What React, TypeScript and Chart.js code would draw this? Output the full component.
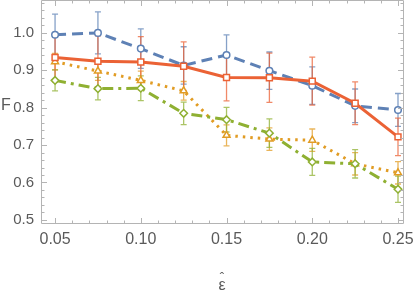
import React, { useEffect, useRef } from "react";
import { Chart, registerables } from "chart.js";

Chart.register(...registerables);

const xValues = [0.05, 0.075, 0.1, 0.125, 0.15, 0.175, 0.2, 0.225, 0.25];
const xTickValues = [0.05, 0.1, 0.15, 0.2, 0.25];
const xTickLabels = ["0.05", "0.10", "0.15", "0.20", "0.25"];
const yTickValues = [0.5, 0.6, 0.7, 0.8, 0.9, 1.0];
const yTickLabels = ["0.5", "0.6", "0.7", "0.8", "0.9", "1.0"];

const blueVals = [0.995, 1.0, 0.958, 0.913, 0.941, 0.899, 0.859, 0.805, 0.794];
const blueErr = [0.055, 0.056, 0.053, 0.05, 0.054, 0.05, 0.05, 0.045, 0.044];
const redVals = [0.934, 0.924, 0.922, 0.911, 0.881, 0.88, 0.871, 0.812, 0.722];
const redErr = [0.065, 0.068, 0.068, 0.065, 0.063, 0.066, 0.064, 0.057, 0.05];
const orangeVals = [0.923, 0.898, 0.873, 0.845, 0.726, 0.716, 0.713, 0.65, 0.626];
const orangeErr = [0.022, 0.025, 0.025, 0.025, 0.028, 0.03, 0.03, 0.03, 0.03];
const greenVals = [0.873, 0.851, 0.852, 0.785, 0.768, 0.732, 0.655, 0.65, 0.582];
const greenErr = [0.028, 0.03, 0.033, 0.03, 0.033, 0.038, 0.036, 0.038, 0.035];

const BLUE = "#5E81B5";
const RED = "#EB6235";
const ORANGE = "#E19C24";
const GREEN = "#8FB032";
const AXIS = "#b4b4b4";
const TEXT = "#5a5a5a";
const FONT = "'Liberation Sans', Arial, sans-serif";

function hexA(hex: string, a: number) {
  const n = parseInt(hex.slice(1), 16);
  return `rgba(${(n >> 16) & 255},${(n >> 8) & 255},${n & 255},${a})`;
}

const errorBarPlugin = {
  id: "errorBars",
  beforeDatasetsDraw(chart: any) {
    const ctx = chart.ctx;
    const xs = chart.scales.x;
    const ys = chart.scales.y;
    ctx.save();
    const order = [0, 1, 2, 3];
    order.forEach((di) => {
      const ds = chart.data.datasets[di];
      const errs: number[] = ds.errors;
      ctx.strokeStyle = hexA(ds.borderColor, 0.75);
      ctx.lineWidth = 1.3;
      ds.data.forEach((p: any, i: number) => {
        const px = xs.getPixelForValue(p.x);
        const top = ys.getPixelForValue(p.y + errs[i]);
        const bot = ys.getPixelForValue(p.y - errs[i]);
        ctx.beginPath();
        ctx.moveTo(px, top);
        ctx.lineTo(px, bot);
        ctx.moveTo(px - 3, top);
        ctx.lineTo(px + 3, top);
        ctx.moveTo(px - 3, bot);
        ctx.lineTo(px + 3, bot);
        ctx.stroke();
      });
    });
    ctx.restore();
  },
};

const framePlugin = {
  id: "frame",
  afterDraw(chart: any) {
    const ctx = chart.ctx;
    const { left, right, top, bottom } = chart.chartArea;
    const xs = chart.scales.x;
    const ys = chart.scales.y;
    ctx.save();
    ctx.strokeStyle = AXIS;
    ctx.lineWidth = 1;
    ctx.beginPath();
    ctx.rect(left + 0.5, top + 0.5, right - left - 1, bottom - top - 1);
    ctx.stroke();
    for (let k = 0; k <= 25; k++) {
      const v = 0.05 + k * 0.01;
      if (v > xs.max) break;
      const major = k % 5 === 0;
      const len = major ? 6 : 3.5;
      const px = Math.round(xs.getPixelForValue(v)) + 0.5;
      ctx.beginPath();
      ctx.moveTo(px, bottom);
      ctx.lineTo(px, bottom - len);
      ctx.moveTo(px, top);
      ctx.lineTo(px, top + len);
      ctx.stroke();
    }
    for (let k = -2; k <= 30; k++) {
      const v = 0.5 + k * 0.02;
      if (v < ys.min || v > ys.max) continue;
      const major = k % 5 === 0;
      const len = major ? 6 : 3.5;
      const py = Math.round(ys.getPixelForValue(v)) + 0.5;
      ctx.beginPath();
      ctx.moveTo(left, py);
      ctx.lineTo(left + len, py);
      ctx.moveTo(right, py);
      ctx.lineTo(right - len, py);
      ctx.stroke();
    }
    ctx.fillStyle = TEXT;
    ctx.font = `16px ${FONT}`;
    ctx.textAlign = "center";
    ctx.textBaseline = "middle";
    ctx.fillText("F", 6, 106);
    ctx.fillText("\u03B5", 222, 286);
    ctx.font = `13px ${FONT}`;
    ctx.fillText("\u02C6", 222, 278);
    ctx.restore();
  },
};

function series(label: string, vals: number[], errs: number[], color: string, style: string, dash: number[], radius: number, order: number) {
  return {
    label,
    data: xValues.map((x, i) => ({ x, y: vals[i] })),
    errors: errs,
    borderColor: color,
    backgroundColor: "#ffffff",
    borderWidth: 3,
    borderDash: dash,
    pointStyle: style,
    pointRadius: radius,
    pointBorderWidth: 1.5,
    pointBorderColor: color,
    pointBackgroundColor: "#ffffff",
    tension: 0,
    clip: false,
    order,
  } as any;
}

export default function App() {
  const ref = useRef<HTMLCanvasElement>(null);
  useEffect(() => {
    if (!ref.current) return;
    const chart = new Chart(ref.current, {
      type: "line",
      data: {
        datasets: [
          series("a", blueVals, blueErr, BLUE, "circle", [11, 6], 3.3, 3),
          series("b", orangeVals, orangeErr, ORANGE, "triangle", [2.5, 5], 4, 2),
          series("c", greenVals, greenErr, GREEN, "rectRot", [11, 5, 3, 5], 3.8, 1),
          series("d", redVals, redErr, RED, "rect", [], 4.2, 0),
        ],
      },
      options: {
        animation: false,
        responsive: false,
        events: [],
        layout: { autoPadding: false, padding: { left: 0, right: 11, top: 0, bottom: 0 } },
        plugins: { legend: { display: false }, tooltip: { enabled: false } },
        scales: {
          x: {
            type: "linear",
            min: 0.0418,
            max: 0.2535,
            grid: { display: false, drawTicks: false },
            border: { display: false },
            afterBuildTicks: (s: any) => {
              s.ticks = xTickValues.map((v) => ({ value: v }));
            },
            afterFit: (s: any) => {
              s.height = 72;
              s.paddingLeft = 0;
              s.paddingRight = 0;
            },
            ticks: {
              autoSkip: false,
              maxRotation: 0,
              color: TEXT,
              font: { family: FONT, size: 16 },
              padding: 6,
              callback: (v: any) => {
                const i = xTickValues.findIndex((t) => Math.abs(t - v) < 1e-9);
                return i >= 0 ? xTickLabels[i] : "";
              },
            },
          },
          y: {
            type: "linear",
            min: 0.489,
            max: 1.088,
            grid: { display: false, drawTicks: false },
            border: { display: false },
            afterBuildTicks: (s: any) => {
              s.ticks = yTickValues.map((v) => ({ value: v }));
            },
            afterFit: (s: any) => {
              s.width = 41;
              s.paddingTop = 0;
              s.paddingBottom = 0;
            },
            ticks: {
              autoSkip: false,
              color: TEXT,
              font: { family: FONT, size: 15 },
              padding: 7,
              callback: (v: any) => {
                const i = yTickValues.findIndex((t) => Math.abs(t - v) < 1e-9);
                return i >= 0 ? yTickLabels[i] : "";
              },
            },
          },
        },
      },
      plugins: [errorBarPlugin, framePlugin],
    });
    return () => chart.destroy();
  }, []);
  return (
    <div style={{ position: "fixed", left: 0, top: 0, width: 415, height: 296, background: "#fff" }}>
      <canvas ref={ref} width={415} height={296} style={{ width: 415, height: 296 }} />
    </div>
  );
}
